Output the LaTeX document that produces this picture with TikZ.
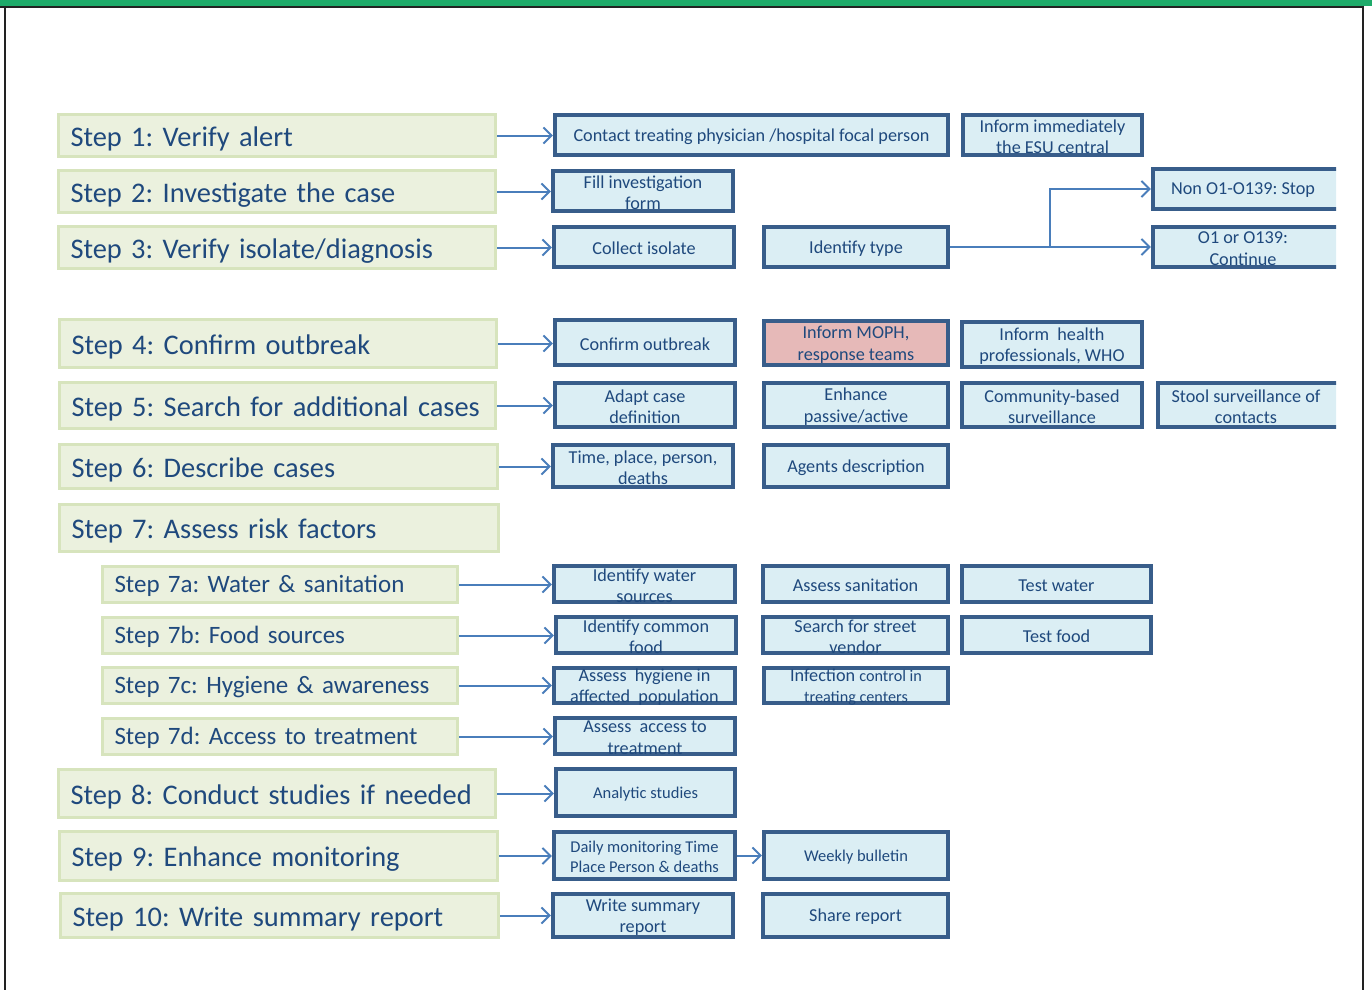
\documentclass[tikz,border=0pt]{standalone}
\usepackage{fontspec}
\setmainfont{Carlito}
\frenchspacing
\usetikzlibrary{arrows.meta}

\definecolor{txtblue}{HTML}{1F497D}
\definecolor{stepfill}{HTML}{EBF1DE}
\definecolor{stepline}{HTML}{D7E4BD}
\definecolor{boxfill}{HTML}{DBEEF4}
\definecolor{boxline}{HTML}{385D8A}
\definecolor{pinkfill}{HTML}{E6B9B8}
\definecolor{arrowblue}{HTML}{4A7EBB}
\definecolor{bargreen}{HTML}{1EAB6A}
\definecolor{framegray}{HTML}{222222}

\tikzset{
  stepbox/.style={draw=stepline, fill=stepfill, line width=3pt, text=txtblue,
    align=left, inner xsep=12pt, inner ysep=0pt},
  bigstep/.style={font=\fontsize{28.4}{33}\selectfont, text height=22pt, text depth=1pt},
  substep/.style={font=\fontsize{25}{29}\selectfont, text height=17.5pt, text depth=1pt},
  bluebox/.style={draw=boxline, fill=boxfill, line width=4.3pt, inner sep=0pt},
  pinkbox/.style={bluebox, fill=pinkfill},
  boxtext/.style={text=txtblue, align=center, inner sep=0pt, yshift=-1.5pt,
    font=\fontsize{18.2}{21.5}\selectfont},
  smalltext/.style={font=\fontsize{16.5}{19.5}\selectfont},
  conn/.style={draw=arrowblue, line width=2pt,
    -{Straight Barb[length=8pt,width=16pt,line width=2pt]}},
}

% step box: [size style]{name}{x1}{y1}{x2}{y2}{text}
\newcommand\stepat[7][bigstep]{%
  \node[stepbox,#1, minimum width={(#5-#3-3)*1pt}, minimum height={(#6-#4-3)*1pt},
    text width={(#5-#3-27)*1pt}] (#2) at ({(#3+#5)/2},{(#4+#6)/2}) {#7};}
% action box: [box style]{name}{x1}{y1}{x2}{y2}{text}
\newcommand\boxat[7][bluebox]{%
  \node[#1, minimum width={(#5-#3-4)*1pt}, minimum height={(#6-#4-4)*1pt},
    label={[boxtext]center:{#7}}] (#2) at ({(#3+#5)/2},{(#4+#6)/2}) {};}
% action box with smaller lettering
\newcommand\smallboxat[6]{%
  \node[bluebox, minimum width={(#4-#2-4)*1pt}, minimum height={(#5-#3-4)*1pt},
    label={[boxtext,smalltext]center:{#6}}] (#1) at ({(#2+#4)/2},{(#3+#5)/2}) {};}

\begin{document}
\begin{tikzpicture}[x=1pt,y=-1pt]
\useasboundingbox (0,0) rectangle (1372,990);

% title strip and frame
\fill[bargreen] (0,0) rectangle (1372,6.5);
\draw[framegray, line width=2pt] (0,7) -- (1364,7);
\draw[framegray, line width=2pt] (5,6) -- (5,990);
\draw[framegray, line width=2pt] (1363,6) -- (1363,990);

% steps
\stepat{s1}{57}{113}{497}{158}{Step 1: Verify alert}
\stepat{s2}{57}{169}{497}{214}{Step 2: Investigate the case}
\stepat{s3}{57}{225}{497}{270}{Step 3: Verify isolate/diagnosis}
\stepat{s4}{58}{318}{498}{369}{Step 4: Confirm outbreak}
\stepat{s5}{58}{381}{497}{430}{Step 5: Search for additional cases}
\stepat{s6}{58}{443}{499}{490}{Step 6: Describe cases}
\stepat{s7}{58}{503}{500}{553}{Step 7: Assess risk factors}
\stepat[substep]{s7a}{101}{565}{459}{604}{Step 7a: Water \& sanitation}
\stepat[substep]{s7b}{101}{616}{459}{655}{Step 7b: Food sources}
\stepat[substep]{s7c}{101}{666}{459}{705}{Step 7c: Hygiene \& awareness}
\stepat[substep]{s7d}{101}{717}{459}{756}{Step 7d: Access to treatment}
\stepat{s8}{57}{768}{497}{819}{Step 8: Conduct studies if needed}
\stepat{s9}{58}{830}{499}{882}{Step 9: Enhance monitoring}
\stepat{s10}{59}{892}{500}{939}{Step 10: Write summary report}

% first column of actions
\boxat{contact}{553}{113}{950}{157}{Contact treating physician /hospital focal person}
\boxat{fill}{551}{169}{735}{213}{Fill investigation\\form}
\boxat{collect}{552}{225}{736}{269}{Collect isolate}
\boxat{confirm}{553}{318}{737}{367}{Confirm outbreak}
\boxat{adapt}{553}{381}{737}{429}{Adapt case\\definition}
\boxat{tppd}{551}{443}{735}{489}{Time, place, person,\\deaths}
\boxat{water}{552}{564}{737}{604}{Identify water\\sources}
\boxat{food}{554}{615}{738}{655}{Identify common\\food}
\boxat{hygiene}{552}{666}{737}{705}{Assess\ \ hygiene in\\affected\ \ population}
\boxat{access}{553}{716}{737}{756}{Assess\ \ access to\\treatment}
\smallboxat{analytic}{554}{767}{737}{818}{Analytic studies}
\smallboxat{daily}{552}{830}{737}{881}{Daily monitoring Time\\Place Person \& deaths}
\boxat{write}{551}{892}{735}{939}{Write summary\\report}

% second column
\boxat{idtype}{762}{225}{950}{269}{Identify type}
\boxat[pinkbox]{moph}{762}{319}{950}{367}{Inform MOPH,\\response teams}
\boxat{enhance}{762}{381}{950}{429}{Enhance\\passive/active}
\boxat{agents}{762}{443}{950}{489}{Agents description}
\boxat{sanit}{761}{564}{950}{604}{Assess sanitation}
\boxat{vendor}{761}{615}{950}{655}{Search for street\\vendor}
\boxat{infect}{762}{666}{950}{705}{Infection {\fontsize{16.2}{19}\selectfont control in}\\{\fontsize{16.2}{19}\selectfont treating centers}}
\smallboxat{weekly}{762}{830}{950}{881}{Weekly bulletin}
\boxat{share}{761}{892}{950}{939}{Share report}

% third column
\boxat{esu}{961}{113}{1144}{157}{Inform immediately\\the ESU central}
\boxat{health}{960}{320}{1144}{369}{Inform\ \ health\\professionals, WHO}
\boxat{community}{960}{381}{1144}{429}{Community-based\\surveillance}
\boxat{testw}{960}{564}{1153}{604}{Test water}
\boxat{testf}{960}{615}{1153}{655}{Test food}

% fourth column, cut off at the right margin
\begin{scope}
\clip (1100,100) rectangle (1336,450);
\boxat{stop}{1151}{167}{1348}{211}{\hspace*{-13pt}Non O1-O139: Stop}
\boxat{cont}{1151}{225}{1348}{269}{\hspace*{-13pt}O1 or O139:\\\hspace*{-13pt}Continue}
\boxat{stool}{1156}{381}{1348}{429}{\hspace*{-12pt}Stool surveillance of\\\hspace*{-12pt}contacts}
\end{scope}

% connectors
\foreach \a/\b in {s1/contact, s2/fill, s3/collect, s4/confirm, s5/adapt, s6/tppd,
                   s7a/water, s7b/food, s7c/hygiene, s7d/access, s8/analytic,
                   s9/daily, s10/write}
  \draw[conn] (\a.east) -- (\a.east -| \b.west);
\draw[conn] (daily.east) -- (weekly.west);
\coordinate (split) at (1050,247);
\draw[conn] (idtype.east) -- (split) |- (stop.west);
\draw[conn] (split) -- (cont.west);
\end{tikzpicture}
\end{document}
